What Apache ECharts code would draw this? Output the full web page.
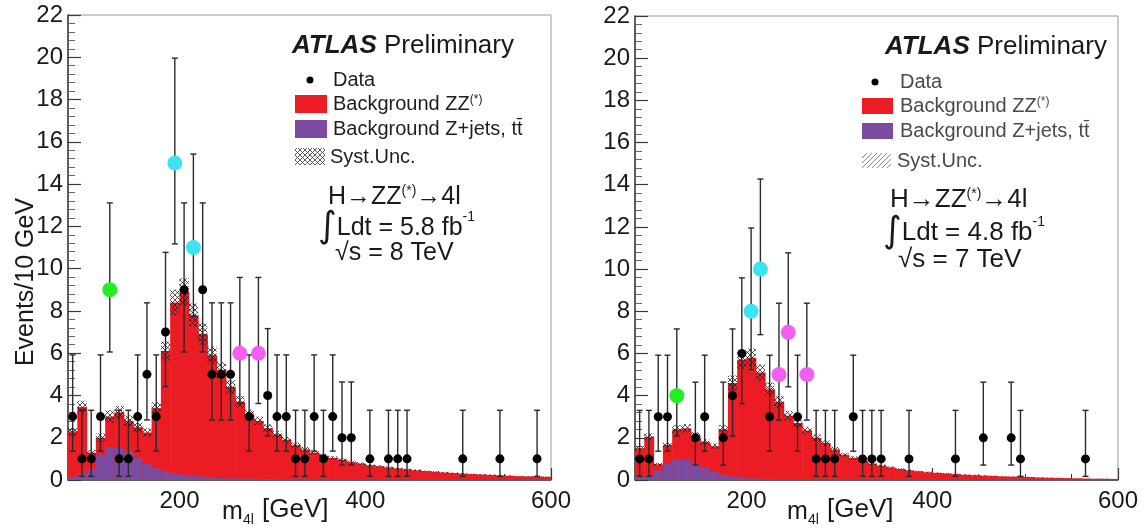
<!DOCTYPE html>
<html><head><meta charset="utf-8">
<script src="https://cdn.jsdelivr.net/npm/echarts@6/dist/echarts.min.js"></script>
<style>html,body{margin:0;padding:0;background:#fff}#c{width:1144px;height:529px}</style>
</head><body><div id="c"></div>
<script>
// ---------- DATA ----------
const binLow = [80,90,100,110,120,130,140,150,160,170,180,190,200,210,220,230,240,250,260,270,280,290,300,310,320,330,340,350,360,370,380,390,400,410,420,430,440,450,460,470,480,490,500,510,520,530,540,550,560,570,580,590];
const binWidth = 10;

// 8 TeV (left)
const leftTotal = [2.3,3.45,1.3,2.0,3.0,3.2,2.8,2.5,2.25,3.4,6.1,8.4,8.9,7.8,6.9,5.9,5.2,4.4,3.7,3.1,2.8,2.45,2.15,1.9,1.65,1.45,1.3,1.15,1.05,0.95,0.85,0.78,0.7,0.65,0.6,0.55,0.5,0.46,0.42,0.39,0.36,0.33,0.3,0.28,0.26,0.24,0.22,0.2,0.18,0.17,0.16,0.15];
const leftZjets = [0.15,0.3,0.5,1.2,1.55,1.55,1.35,1.05,0.75,0.55,0.42,0.32,0.25,0.2,0.16,0.13,0.1,0.08,0.07,0.06,0.05,0.04,0.04,0.03,0.03,0.02,0.02,0.02,0.01,0.01,0.01,0.01,0,0,0,0,0,0,0,0,0,0,0,0,0,0,0,0,0,0,0,0];
const leftSyst = [0.2,0.3,0.12,0.2,0.3,0.3,0.25,0.22,0.2,0.28,0.45,0.6,0.65,0.55,0.5,0.42,0.37,0.32,0.27,0.23,0.2,0.18,0.16,0.14,0.12,0.11,0.1,0.09,0.08,0.07,0.065,0.06,0.055,0.05,0.045,0.04,0.04,0.035,0.03,0.03,0.03,0.025,0.025,0.02,0.02,0.02,0.02,0.02,0.015,0.015,0.015,0.015];
const leftDataX = [85,95,105,115,135,145,155,165,175,185,205,225,235,245,255,275,295,305,315,325,335,345,355,365,375,385,405,425,435,445,505,545,585];
const leftDataN = [3,1,1,3,1,1,3,5,3,7,9,9,5,5,5,3,4,3,3,1,1,3,1,3,2,2,1,1,1,1,1,1,1];
const leftGreen = [[125,9]];
const leftCyan = [[195,15],[215,11]];
const leftMagenta = [[265,6],[285,6]];

// 7 TeV (right)
const rightTotal = [1.5,2.05,0.75,1.65,2.4,2.45,2.1,1.8,1.6,2.4,4.6,5.7,5.8,5.1,4.3,3.7,3.05,2.7,2.35,2.0,1.75,1.45,1.2,1.05,0.9,0.78,0.68,0.6,0.52,0.46,0.41,0.37,0.34,0.31,0.28,0.25,0.23,0.21,0.19,0.17,0.16,0.15,0.14,0.12,0.11,0.1,0.09,0.08,0.07,0.06,0.06,0.05];
const rightZjets = [0.15,0.22,0.45,0.78,0.98,0.95,0.8,0.6,0.4,0.25,0.17,0.12,0.08,0.06,0.04,0.03,0.03,0.02,0.02,0.01,0.01,0.01,0.01,0.01,0.01,0.01,0.01,0,0,0,0,0,0,0,0,0,0,0,0,0,0,0,0,0,0,0,0,0,0,0,0,0];
const rightSyst = [0.12,0.17,0.07,0.14,0.2,0.2,0.17,0.15,0.13,0.2,0.35,0.42,0.43,0.38,0.32,0.28,0.23,0.2,0.18,0.15,0.13,0.11,0.09,0.08,0.07,0.06,0.05,0.045,0.04,0.035,0.03,0.03,0.025,0.025,0.02,0.02,0.02,0.015,0.015,0.015,0.012,0.012,0.01,0.01,0.01,0.01,0.008,0.008,0.006,0.006,0.006,0.005];
const rightDataX = [85,95,105,115,145,155,175,185,195,225,255,275,285,295,315,325,335,345,375,425,455,485,495,565];
const rightDataN = [1,1,3,3,2,3,2,4,6,3,3,1,1,1,3,1,1,1,1,1,2,2,1,1];
const rightGreen = [[125,4]];
const rightCyan = [[205,8],[215,10]];
const rightMagenta = [[235,5],[245,7],[265,5]];

// Poisson (Garwood) 68% interval bounds indexed by count
const poisLo = [0,0.173,0.708,1.367,2.086,2.840,3.620,4.419,5.232,6.057,6.891,7.734,8.585,9.441,10.30,11.17];
const poisHi = [1.841,3.300,4.638,5.918,7.163,8.382,9.584,10.77,11.95,13.11,14.27,15.42,16.56,17.70,18.83,19.96];

const xMajorTicks = [200,400,600];
const xMinorTicks = [100,150,250,300,350,450,500,550];

// ---------- STYLE ----------
const FONT = '"Liberation Sans", Arial, Helvetica, sans-serif';
const RED = '#ec1c24', PURPLE = '#7a4b9e', CYAN = '#3ce3f2', GREEN = '#22ee22', MAGENTA = '#f45ef4';

function makeHatch(color, cross) {
  const c = document.createElement('canvas'); c.width = 5; c.height = 5;
  const g = c.getContext('2d');
  g.strokeStyle = color; g.lineWidth = 1;
  g.beginPath();
  g.moveTo(-1,6); g.lineTo(6,-1);
  g.moveTo(-1,1); g.lineTo(1,-1);
  g.moveTo(4,6); g.lineTo(6,4);
  if (cross) {
    g.moveTo(-1,-1); g.lineTo(6,6);
    g.moveTo(-1,4); g.lineTo(1,6);
    g.moveTo(4,-1); g.lineTo(6,1);
  }
  g.stroke();
  return c;
}
const hatchBand = {image: makeHatch('rgba(25,25,25,0.75)', true), repeat: 'repeat'};
const hatchLegL = {image: makeHatch('rgba(60,60,60,0.85)', true), repeat: 'repeat'};
const hatchLegR = {image: makeHatch('rgba(110,110,110,0.8)', false), repeat: 'repeat'};

function histData(tot, zj, sy) {
  return binLow.map((b, i) => [b, b + binWidth, tot[i], zj[i], sy[i]]);
}
function histRender(params, api) {
  const x0 = api.value(0), x1 = api.value(1), tot = api.value(2), zj = api.value(3), sy = api.value(4);
  const bl = api.coord([x0, 0]), tr = api.coord([x1, tot]), zt = api.coord([x1, zj]);
  const sLo = api.coord([x0, Math.max(0, tot - sy)]), sHi = api.coord([x1, tot + sy]);
  const w = tr[0] - bl[0] + 0.6;
  const ch = [
    {type:'rect', shape:{x:bl[0], y:tr[1], width:w, height:bl[1]-tr[1]}, style:{fill:RED}},
  ];
  if (zj > 0) ch.push({type:'rect', shape:{x:bl[0], y:zt[1], width:w, height:bl[1]-zt[1]}, style:{fill:PURPLE}});
  ch.push({type:'rect', shape:{x:sLo[0], y:sHi[1], width:w-0.6, height:sLo[1]-sHi[1]}, style:{fill:hatchBand}});
  return {type:'group', children: ch};
}
function errData(xs, ns, extras) {
  const out = xs.map((x, i) => [x, poisLo[ns[i]], poisHi[ns[i]]]);
  extras.forEach(arr => arr.forEach(p => out.push([p[0], poisLo[p[1]], poisHi[p[1]]])));
  return out;
}
function errRender(params, api) {
  const x = api.value(0);
  const a = api.coord([x, api.value(1)]), b = api.coord([x, api.value(2)]);
  const st = {stroke:'#2a2a2a', lineWidth:1.4};
  return {type:'group', children:[
    {type:'line', shape:{x1:a[0], y1:a[1], x2:b[0], y2:b[1]}, style:st},
    {type:'line', shape:{x1:a[0]-3, y1:a[1], x2:a[0]+3, y2:a[1]}, style:st},
    {type:'line', shape:{x1:b[0]-3, y1:b[1], x2:b[0]+3, y2:b[1]}, style:st}
  ]};
}

const axisColor = '#3a3a3a';
function xAxesFor(gi) {
  return [
    {type:'value', gridIndex:gi, position:'bottom', min:80, max:600,
     axisLine:{show:true, lineStyle:{color:axisColor, width:1.5}},
     axisTick:{show:true, inside:true, length:12, customValues:xMajorTicks, lineStyle:{color:axisColor, width:1.2}},
     axisLabel:{show:true, customValues:xMajorTicks, fontSize:24, color:'#1a1a1a', fontFamily:FONT, margin:9},
     splitLine:{show:false}},
    {type:'value', gridIndex:gi, position:'bottom', min:80, max:600,
     axisLine:{show:false},
     axisTick:{show:true, inside:true, length:6, customValues:xMinorTicks, lineStyle:{color:axisColor, width:1}},
     axisLabel:{show:false}, splitLine:{show:false}}
  ];
}
function yAxisFor(gi) {
  return {type:'value', gridIndex:gi, min:0, max:22, interval:2,
    axisLine:{show:true, lineStyle:{color:axisColor, width:1.5}},
    axisTick:{show:true, inside:true, length:13, lineStyle:{color:axisColor, width:1.2}},
    minorTick:{show:true, splitNumber:5, length:7, lineStyle:{color:'#666', width:1}},
    axisLabel:{fontSize:24, color:'#1a1a1a', fontFamily:FONT, margin:5},
    splitLine:{show:false}, minorSplitLine:{show:false}};
}
function dot(color, size, data, xi, yi) {
  return {type:'scatter', xAxisIndex:xi, yAxisIndex:yi, data:data, symbol:'circle', symbolSize:size,
    itemStyle:{color:color, opacity:1}, emphasis:{disabled:true}, silent:true};
}
function panelSeries(xi, yi, tot, zj, sy, dx, dn, green, cyan, mag) {
  return [
    {type:'custom', xAxisIndex:xi, yAxisIndex:yi, data:histData(tot, zj, sy), renderItem:histRender, clip:true, silent:true},
    {type:'custom', xAxisIndex:xi, yAxisIndex:yi, data:errData(dx, dn, [green, cyan, mag]), renderItem:errRender, clip:true, silent:true},
    dot('#000', 9, dx.map((x, i) => [x, dn[i]]), xi, yi),
    dot(GREEN, 15, green, xi, yi),
    dot(CYAN, 15, cyan, xi, yi),
    dot(MAGENTA, 15, mag, xi, yi)
  ];
}

function txt(x, y, text, size, opts) {
  opts = opts || {};
  return {type:'text', x:x, y:y, rotation: opts.rotation || 0, silent:true, z:100,
    style:{text:text, fontSize:size, fontFamily:FONT, fill: opts.fill || '#1a1a1a', fontWeight: opts.weight || 'normal',
      fontStyle: opts.style || 'normal', align: opts.align || 'left', verticalAlign: opts.valign || 'middle', rich: opts.rich}};
}
const supRich = (sz) => ({sup:{fontSize:sz, verticalAlign:'top', fontFamily:FONT}});

function panelGraphics(o) {
  const c = o.textColor;
  return [
    txt(o.atlasX, o.atlasY, '{b|ATLAS} Preliminary', 26, {rich:{b:{fontSize:26, fontWeight:'bold', fontStyle:'italic', fontFamily:FONT}}}),
    {type:'circle', shape:{cx:o.dotX, cy:o.dataY, r:3.5}, style:{fill:'#000'}, z:100},
    txt(o.textX, o.dataY, 'Data', 20, {fill:c}),
    {type:'rect', shape:{x:o.boxX, y:o.redY, width:o.boxW, height:o.boxH}, style:{fill:RED}, z:100},
    txt(o.textX, o.redY + o.boxH/2, 'Background ZZ{sup|(*)}', 20, {fill:c, rich:supRich(12)}),
    {type:'rect', shape:{x:o.boxX, y:o.purY, width:o.boxW, height:o.boxH}, style:{fill:PURPLE}, z:100},
    txt(o.textX, o.purY + o.boxH/2, 'Background Z+jets, tt\u0304', 20, {fill:c}),
    {type:'rect', shape:{x:o.boxX, y:o.sysY, width:o.boxW - 2, height:o.boxH - 1}, style:{fill:o.hatch}, z:100},
    txt(o.textX - 3, o.sysY + o.boxH/2, 'Syst.Unc.', 20, {fill:c}),
    txt(o.hX, o.hY, 'H\u2192ZZ{sup|(*)}\u21924l', o.bigSize, {rich:supRich(14)}),
    txt(o.lX, o.lY, '{i|\u222B}Ldt = ' + o.lumi + ' fb{sup|-1}', o.bigSize, {rich:{i:{fontSize:36, fontFamily:'"DejaVu Sans", sans-serif', verticalAlign:'middle'}, sup:{fontSize:14, verticalAlign:'top', fontFamily:FONT}}}),
    txt(o.sX, o.sY, '\u221As = ' + o.energy, o.bigSize),
    txt(o.mX, 512, 'm', 25),
    txt(o.mX + 21, 520, '4l', 14),
    txt(o.mX + 40, 510, '[GeV]', 26)
  ];
}

const chart = echarts.init(document.getElementById('c'), null, {renderer:'canvas'});
chart.setOption({
  animation:false,
  backgroundColor:'#fff',
  grid:[
    {left:68, top:15, width:483, height:465, show:true, borderColor:'#999', borderWidth:1, backgroundColor:'transparent'},
    {left:635, top:16, width:483, height:464, show:true, borderColor:'#999', borderWidth:1, backgroundColor:'transparent'}
  ],
  xAxis:[].concat(xAxesFor(0), xAxesFor(1)),
  yAxis:[yAxisFor(0), yAxisFor(1)],
  series:[].concat(
    panelSeries(0, 0, leftTotal, leftZjets, leftSyst, leftDataX, leftDataN, leftGreen, leftCyan, leftMagenta),
    panelSeries(2, 1, rightTotal, rightZjets, rightSyst, rightDataX, rightDataN, rightGreen, rightCyan, rightMagenta)
  ),
  graphic:[].concat(
    [txt(26, 282, 'Events/10 GeV', 25, {rotation:Math.PI/2, align:'center'})],
    panelGraphics({atlasX:292, atlasY:46, dotX:310, dataY:80, textX:333, boxX:295, boxW:32, boxH:18, redY:95, purY:120, sysY:148,
      textColor:'#1e1e1e', hatch:hatchLegL, hX:328, hY:197, lX:318, lY:228, sX:335, sY:253, bigSize:25, lumi:'5.8', energy:'8 TeV', mX:222}),
    panelGraphics({atlasX:885, atlasY:47, dotX:875, dataY:82, textX:900, boxX:862, boxW:31, boxH:16, redY:98, purY:123, sysY:153,
      textColor:'#4a4a4a', hatch:hatchLegR, hX:890, hY:200, lX:883, lY:233, sX:898, sY:260, bigSize:26, lumi:'4.8', energy:'7 TeV', mX:787})
  )
});
</script>
</body></html>
